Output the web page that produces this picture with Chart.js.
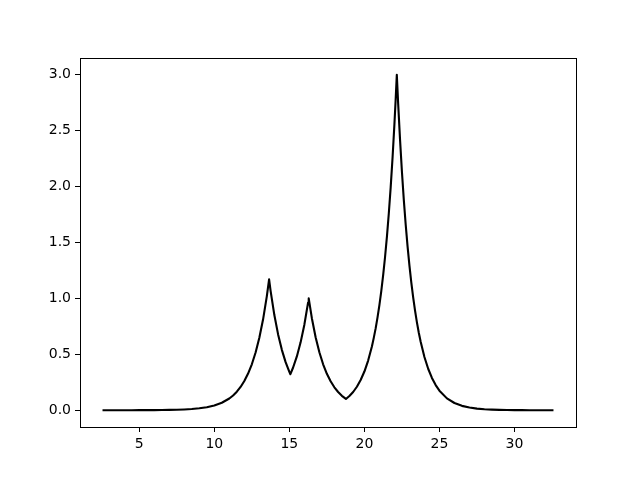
<!DOCTYPE html>
<html>
<head>
<meta charset="utf-8">
<script src="https://cdn.jsdelivr.net/npm/chart.js@4"></script>
<style>
  html, body { margin: 0; padding: 0; background: #fff; }
  canvas { display: block; }
</style>
</head>
<body>
<canvas id="chart" width="640" height="480"></canvas>
<script>
// values
const xValues = [2.55, 3, 3.5, 4, 4.5, 5, 5.5, 6, 6.5, 7, 7.5, 8, 8.5, 9, 9.5, 10, 10.5, 11,
    11.25, 11.5, 11.75, 12, 12.25, 12.5, 12.75, 13, 13.25, 13.5, 13.65, 13.75, 14, 14.25, 14.5,
    14.75, 15, 15.07, 15.25, 15.5, 15.75, 16, 16.25, 16.29, 16.5, 16.75, 17, 17.25, 17.5, 17.75,
    18, 18.25, 18.5, 18.77, 19, 19.25, 19.5, 19.75, 20, 20.25, 20.5, 20.625, 20.75, 20.875, 21,
    21.125, 21.25, 21.375, 21.5, 21.625, 21.75, 21.875, 22, 22.08, 22.16, 22.25, 22.375, 22.5,
    22.625, 22.75, 22.875, 23, 23.125, 23.25, 23.375, 23.5, 23.625, 23.75, 24, 24.25, 24.5, 24.75,
    25, 25.5, 26, 26.5, 27, 27.5, 28, 28.5, 29, 29.5, 30, 30.5, 31, 31.5, 32, 32.6];

const yValues = [0.0000, 0.0001, 0.0001, 0.0002, 0.0003, 0.0005, 0.0007, 0.0011, 0.0018, 0.0028,
    0.0044, 0.0069, 0.0108, 0.0171, 0.0269, 0.0424, 0.0667, 0.105, 0.132, 0.166, 0.208, 0.261,
    0.328, 0.411, 0.516, 0.648, 0.813, 1.021, 1.17, 1.068, 0.851, 0.678, 0.540, 0.430, 0.343,
    0.322, 0.382, 0.481, 0.607, 0.765, 0.964, 1.0, 0.823, 0.653, 0.518, 0.411, 0.326, 0.259,
    0.205, 0.163, 0.129, 0.101, 0.127, 0.163, 0.210, 0.270, 0.346, 0.444, 0.570, 0.647, 0.732,
    0.830, 0.940, 1.066, 1.208, 1.368, 1.551, 1.757, 1.991, 2.256, 2.556, 2.769, 3.0, 2.742,
    2.420, 2.135, 1.884, 1.663, 1.468, 1.295, 1.143, 1.009, 0.890, 0.786, 0.693, 0.612, 0.476,
    0.371, 0.289, 0.225, 0.175, 0.106, 0.0645, 0.0391, 0.0237, 0.0144, 0.0087, 0.0053, 0.0032,
    0.0019, 0.0012, 0.0007, 0.0004, 0.0003, 0.0002, 0.0001];

const xTicks = [5, 10, 15, 20, 25, 30];
const yTicks = [0, 0.5, 1.0, 1.5, 2.0, 2.5, 3.0];

Chart.defaults.font.family = 'DejaVu Sans';
Chart.defaults.font.size = 14;
Chart.defaults.color = '#000';

// matplotlib style box around the plot area
const frame = {
    id: 'frame',
    afterDraw(chart) {
        const a = chart.chartArea;
        const ctx = chart.ctx;
        ctx.save();
        ctx.strokeStyle = '#000';
        ctx.lineWidth = 1;
        ctx.strokeRect(Math.round(a.left) + 0.5, Math.round(a.top) + 0.5,
            Math.round(a.right - a.left), Math.round(a.bottom - a.top));
        ctx.restore();
    }
};

new Chart(document.getElementById('chart'), {
    type: 'scatter',
    data: {
        datasets: [{
            data: xValues.map((x, i) => ({ x: x, y: yValues[i] })),
            showLine: true,
            borderColor: '#000',
            borderWidth: 2.1,
            borderJoinStyle: 'round',
            pointRadius: 0,
            tension: 0
        }]
    },
    options: {
        responsive: false,
        animation: false,
        layout: { padding: { top: 58, right: 64, bottom: 0, left: 0 } },
        plugins: { legend: { display: false }, tooltip: { enabled: false } },
        scales: {
            x: {
                type: 'linear',
                min: 1.05,
                max: 34.1,
                afterBuildTicks: s => { s.ticks = xTicks.map(v => ({ value: v })); },
                afterFit: s => { s.height = 53; },
                grid: { drawOnChartArea: false, drawTicks: true, tickLength: 5, color: '#000' },
                border: { display: false },
                ticks: { padding: 4, maxRotation: 0, callback: v => String(v) }
            },
            y: {
                type: 'linear',
                min: -0.15,
                max: 3.15,
                afterBuildTicks: s => { s.ticks = yTicks.map(v => ({ value: v })); },
                afterFit: s => { s.width = 80; },
                grid: { drawOnChartArea: false, drawTicks: true, tickLength: 5, color: '#000' },
                border: { display: false },
                ticks: { padding: 4, callback: v => v.toFixed(1) }
            }
        }
    },
    plugins: [frame]
});
</script>
</body>
</html>
